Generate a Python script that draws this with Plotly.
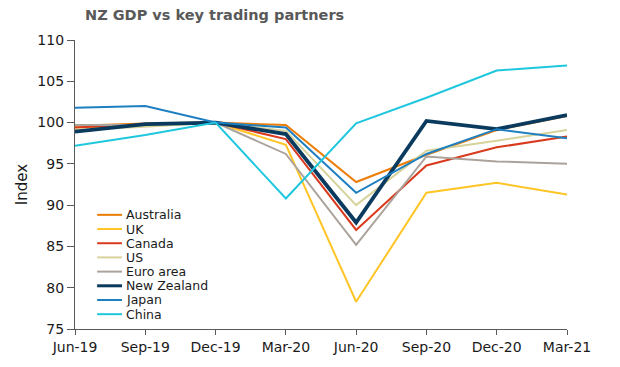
import plotly.graph_objects as go

quarters = ["Jun-19", "Sep-19", "Dec-19", "Mar-20", "Jun-20", "Sep-20", "Dec-20", "Mar-21"]

australia = [99.6, 99.9, 100.0, 99.7, 92.8, 96.1, 99.1, 100.8]
uk = [99.4, 99.6, 100.0, 97.3, 78.3, 91.5, 92.7, 91.3]
canada = [99.4, 99.8, 100.0, 98.0, 87.0, 94.8, 97.0, 98.3]
us = [99.1, 99.5, 100.0, 99.0, 90.0, 96.6, 97.8, 99.1]
euro_area = [99.7, 99.7, 100.0, 96.2, 85.2, 95.9, 95.3, 95.0]
new_zealand = [98.9, 99.8, 100.0, 98.6, 87.9, 100.2, 99.2, 100.9]
japan = [101.8, 102.0, 100.0, 99.4, 91.5, 96.2, 99.2, 98.1]
china = [97.2, 98.5, 100.0, 90.8, 99.9, 103.0, 106.3, 106.9]

names = ["Australia", "UK", "Canada", "US", "Euro area", "New Zealand", "Japan", "China"]
series = [australia, uk, canada, us, euro_area, new_zealand, japan, china]
colors = ["#EB7D07", "#FFC425", "#D93A1E", "#D6D39A", "#ABA39B", "#0A3A5E", "#1E7FC1", "#1FC7DE"]
widths = [2, 2, 2, 2, 2, 3.8, 2, 2]

FONT = "DejaVu Sans"

fig = go.Figure()
for name, vals, col, w in zip(names, series, colors, widths):
    fig.add_trace(go.Scatter(x=quarters, y=vals, mode="lines", name=name,
                             line=dict(color=col, width=w), showlegend=False))

# custom compact legend
leg_top = 0.395
leg_step = 0.0491
for i, (name, col, w) in enumerate(zip(names, colors, widths)):
    yy = leg_top - i * leg_step
    fig.add_shape(type="line", xref="paper", yref="paper", x0=0.045, x1=0.0955,
                  y0=yy, y1=yy, line=dict(color=col, width=min(w, 3)))
    fig.add_annotation(xref="paper", yref="paper", x=0.101, y=yy, text=name,
                       showarrow=False, xanchor="left", yanchor="middle",
                       height=13.4, borderpad=0,
                       font=dict(family=FONT, size=12.5, color="#1a1a1a"))

fig.update_layout(
    width=620, height=367,
    margin=dict(l=75, r=53, t=40, b=36),
    paper_bgcolor="white", plot_bgcolor="white",
    title=dict(text="<b>NZ GDP vs key trading partners</b>", x=85/620, xanchor="left",
               xref="container", y=1 - 15/367, yanchor="middle", yref="container",
               font=dict(family=FONT, size=14.5, color="#595959")),
    font=dict(family=FONT, size=14, color="#1a1a1a"),
    xaxis=dict(type="category", range=[0, 7], showgrid=False, showline=True,
               linecolor="#595959", linewidth=1.3, ticks="outside", ticklen=5,
               tickcolor="#595959", tickfont=dict(size=14), zeroline=False),
    yaxis=dict(range=[75, 110], dtick=5, showgrid=False, showline=True,
               linecolor="#595959", linewidth=1.3, ticks="outside", ticklen=7,
               tickcolor="#595959", tickfont=dict(size=14), zeroline=False,
               title=dict(text="Index", font=dict(size=15), standoff=6)),
)

fig.write_html("out.html", config={"displayModeBar": False},
               post_script="document.body.style.margin='0';document.body.style.overflow='hidden';")
